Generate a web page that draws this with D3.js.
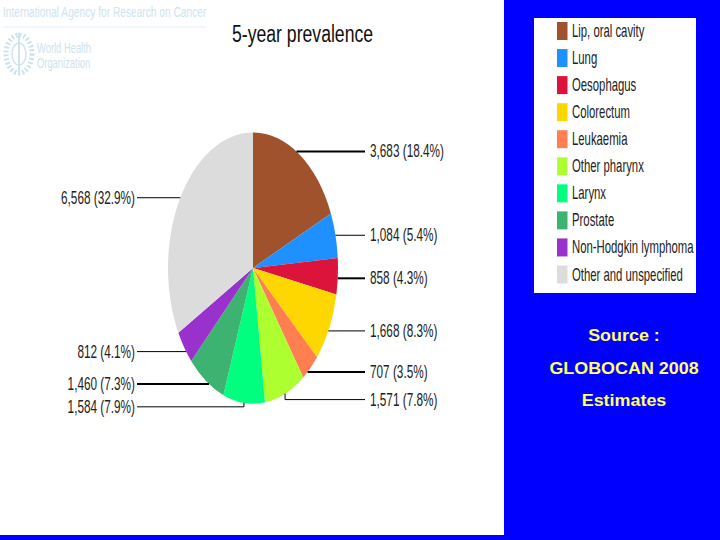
<!DOCTYPE html>
<html>
<head>
<meta charset="utf-8">
<script src="https://cdn.jsdelivr.net/npm/d3@7"></script>
<style>
  html, body { margin: 0; padding: 0; background: #0000ff; }
  svg { display: block; }
  text { font-family: "Liberation Sans", Arial, sans-serif; }
</style>
</head>
<body>
<svg id="chart" width="720" height="540"></svg>
<script>
// datos
var sites = ["Lip, oral cavity", "Lung", "Oesophagus", "Colorectum", "Leukaemia",
  "Other pharynx", "Larynx", "Prostate", "Non-Hodgkin lymphoma", "Other and unspecified"];
var cases = [3683, 1084, 858, 1668, 707, 1571, 1584, 1460, 812, 6568];
var percents = [18.4, 5.4, 4.3, 8.3, 3.5, 7.8, 7.9, 7.3, 4.1, 32.9];
var colors = ["#a0522d", "#1e90ff", "#dc143c", "#ffd700", "#ff7f50",
  "#adff2f", "#00ff7f", "#3cb371", "#9932cc", "#dcdcdc"];

var svg = d3.select("#chart");

// fondo: panel blanco sobre azul
svg.append("rect").attr("width", 720).attr("height", 540).attr("fill", "#0000ff");
svg.append("rect").attr("width", 504).attr("height", 535).attr("fill", "#ffffff");

// cabecera IARC / WHO
var faint = "#cfe3ee";
function squeezed(g, x, y, txt, size, sx, anchor) {
  return g.append("text")
    .attr("transform", "translate(" + x + "," + y + ") scale(" + sx + ",1)")
    .attr("text-anchor", anchor || "start")
    .attr("font-size", size)
    .text(txt);
}
var head = svg.append("g").attr("fill", faint);
squeezed(head, 3, 17, "International Agency for Research on Cancer", 15, 0.68);
squeezed(head, 37, 53, "World Health", 14, 0.67);
squeezed(head, 37, 68, "Organization", 14, 0.67);
head.append("line").attr("x1", 3).attr("x2", 206).attr("y1", 27).attr("y2", 27)
  .attr("stroke", "#e2eef4");

// emblema
var emblem = svg.append("g").attr("transform", "translate(19,54)")
  .attr("fill", "none").attr("stroke", faint);
emblem.append("ellipse").attr("rx", 13).attr("ry", 19).attr("stroke-width", 5).attr("stroke-dasharray", "2 2");
emblem.append("ellipse").attr("rx", 7).attr("ry", 11).attr("stroke-width", 1.5);
emblem.append("line").attr("y1", -21).attr("y2", 21).attr("stroke-width", 2);

// titulo
squeezed(svg, 232, 42, "5-year prevalence", 24.5, 0.72).attr("fill", "#111111");

// pie
var cx = 253, cy = 268, rx = 85, ry = 135.6;
var color = d3.scaleOrdinal().domain(sites).range(colors);
var pie = d3.pie().sort(null).value(function(d) { return d.pct; });
var arc = d3.arc().innerRadius(0).outerRadius(1);
var slices = pie(sites.map(function(s, i) { return { site: s, n: cases[i], pct: percents[i] }; }));

svg.append("g")
  .attr("transform", "translate(" + cx + "," + cy + ") scale(" + rx + "," + ry + ")")
  .selectAll("path").data(slices).enter().append("path")
  .attr("d", arc)
  .attr("fill", function(d) { return color(d.data.site); });

// etiquetas: el punto de salida se corre un poco por el borde, y dos lineas hacen codo
var edgeShift = { "Lip, oral cavity": -3, "Oesophagus": 2, "Colorectum": 3, "Leukaemia": 4,
  "Prostate": 3, "Non-Hodgkin lymphoma": 4, "Other and unspecified": -1 };
var elbow = { "Other pharynx": 6, "Larynx": 4 };
var thick = ["Lip, oral cavity", "Oesophagus", "Leukaemia", "Prostate"];
var fmt = d3.format(",");

var labels = svg.append("g");
slices.forEach(function(d) {
  var mid = (d.startAngle + d.endAngle) / 2;
  var right = mid < Math.PI;
  var py = cy - ry * Math.cos(mid) + (edgeShift[d.data.site] || 0);
  var px = cx + (right ? 1 : -1) * rx * Math.sqrt(1 - Math.pow((py - cy) / ry, 2));
  var ly = py + (elbow[d.data.site] || 0);
  var endX = right ? 365 : 137;
  var w = thick.indexOf(d.data.site) >= 0 ? 2 : 1;

  labels.append("path")
    .attr("d", d3.line()([[px, py], [px, ly], [endX, ly]]))
    .attr("fill", "none").attr("stroke", "#000").attr("stroke-width", w);

  squeezed(labels, right ? 370 : 135, ly + 6,
    fmt(d.data.n) + " (" + d.data.pct.toFixed(1) + "%)", 19, 0.62, right ? "start" : "end")
    .attr("fill", "#222222");
});

// leyenda
svg.append("rect").attr("x", 534).attr("y", 18).attr("width", 162).attr("height", 275).attr("fill", "#ffffff");
var legendY = d3.scalePoint().domain(sites).range([31, 274.5]);
var legend = svg.append("g").selectAll("g").data(sites).enter().append("g");
legend.append("rect")
  .attr("x", 557).attr("width", 10.5).attr("height", 18)
  .attr("y", function(d) { return legendY(d) - 9; })
  .attr("fill", function(d) { return color(d); });
legend.append("text")
  .attr("transform", function(d) { return "translate(572," + (legendY(d) + 6) + ") scale(0.63,1)"; })
  .attr("font-size", 18).attr("fill", "#222222")
  .text(function(d) { return d; });

// fuente
var source = ["Source :", "GLOBOCAN 2008", "Estimates"];
var sourceY = d3.scalePoint().domain(source).range([341, 406]);
svg.append("g").selectAll("text").data(source).enter().append("text")
  .attr("transform", function(d) { return "translate(624," + sourceY(d) + ") scale(1.12,1)"; })
  .attr("text-anchor", "middle")
  .attr("font-size", 16).attr("font-weight", "bold")
  .attr("fill", "#ffff66")
  .text(function(d) { return d; });
</script>
</body>
</html>
